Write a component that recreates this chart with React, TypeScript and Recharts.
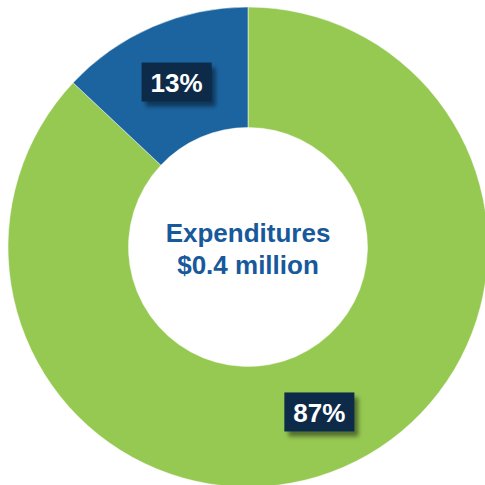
import React from "react";
import { PieChart, Pie, Cell } from "recharts";

const categories = ["Other", "Share"];
const shares = [87, 13];
const sliceColors = ["#96C952", "#1C64A0"];
const centerLines = ["Expenditures", "$0.4 million"];

const data = categories.map((name, i) => ({ name, value: shares[i] }));

const RAD = Math.PI / 180;
const FONT = "'Liberation Sans', Arial, sans-serif";

const renderLabel = (props: any) => {
  const { cx, cy, midAngle, innerRadius, outerRadius, value, index } = props;
  const r = (innerRadius + outerRadius) / 2;
  const x = cx + r * Math.cos(-midAngle * RAD);
  const y = cy + r * Math.sin(-midAngle * RAD);
  const w = 70;
  const h = 39;
  return (
    <g>
      {index === 0 && (
        <text textAnchor="middle" fill="#17599B" fontFamily={FONT} fontWeight="bold" fontSize={26}>
          <tspan x={cx} y={cy - 5}>
            {centerLines[0]}
          </tspan>
          <tspan x={cx} y={cy + 27}>
            {centerLines[1]}
          </tspan>
        </text>
      )}
      <rect
        x={x - w / 2}
        y={y - h / 2}
        width={w}
        height={h}
        fill="#0B2A4A"
        filter="url(#boxShadow)"
      />
      <text
        x={x}
        y={y + 1}
        textAnchor="middle"
        dominantBaseline="central"
        fill="#FFFFFF"
        fontFamily={FONT}
        fontWeight="bold"
        fontSize={26}
      >
        {`${value}%`}
      </text>
    </g>
  );
};

export default function App() {
  return (
    <div
      style={{
        position: "fixed",
        left: 0,
        top: 0,
        width: 485,
        height: 485,
        overflow: "hidden",
        background: "#FFFFFF",
      }}
    >
      <PieChart width={485} height={485} margin={{ top: 0, right: 0, bottom: 0, left: 0 }}>
        <defs>
          <filter id="boxShadow" x="-20%" y="-20%" width="150%" height="160%">
            <feDropShadow dx="4" dy="5" stdDeviation="2" floodColor="#000000" floodOpacity="0.45" />
          </filter>
        </defs>
        <Pie
          data={data}
          dataKey="value"
          nameKey="name"
          cx={248}
          cy={247}
          innerRadius={119.5}
          outerRadius={240}
          startAngle={90}
          endAngle={-270}
          stroke="#FFFFFF"
          strokeWidth={0.5}
          labelLine={false}
          label={renderLabel}
          isAnimationActive={false}
        >
          {data.map((d, i) => (
            <Cell key={d.name} fill={sliceColors[i]} />
          ))}
        </Pie>
      </PieChart>
    </div>
  );
}
